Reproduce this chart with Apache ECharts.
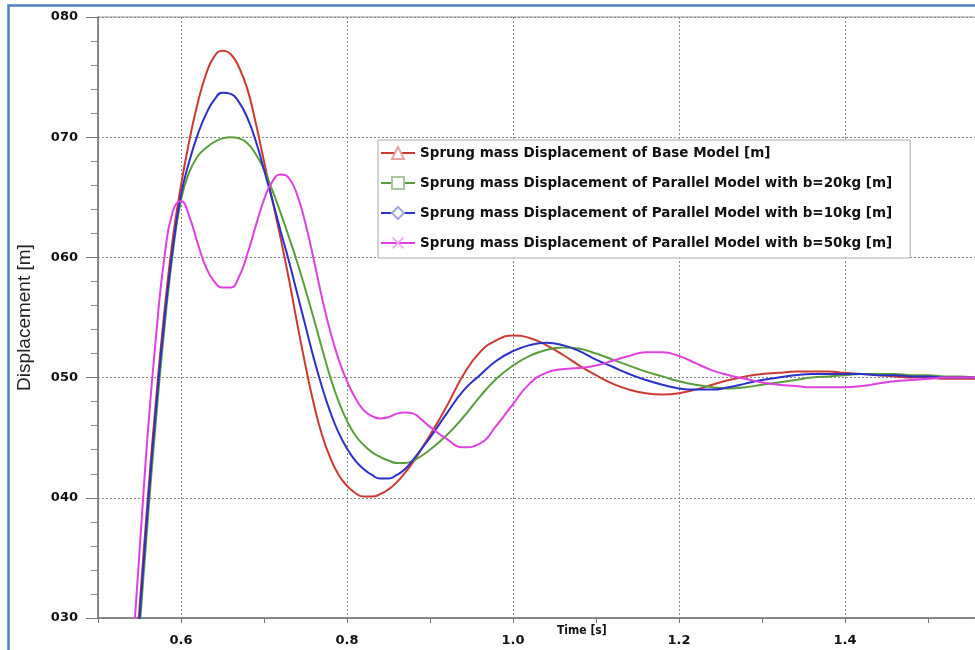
<!DOCTYPE html>
<html>
<head>
<meta charset="utf-8">
<script src="https://cdn.jsdelivr.net/npm/echarts@6/dist/echarts.min.js"></script>
<style>
html,body{margin:0;padding:0;background:#fff;}
#chart{width:975px;height:650px;}
</style>
</head>
<body>
<div id="chart"></div>
<script>
// ---- data (time in s, displacement in m) ----
const seriesNames = [
  'Sprung mass Displacement of Base Model [m]',
  'Sprung mass Displacement of Parallel Model with b=20kg [m]',
  'Sprung mass Displacement of Parallel Model with b=10kg [m]',
  'Sprung mass Displacement of Parallel Model with b=50kg [m]'
];
const yTickLabels = ['030', '040', '050', '060', '070', '080'];
const xTickLabels = ['0.6', '0.8', '1.0', '1.2', '1.4'];

const time = [0.54,0.55,0.56,0.57,0.58,0.59,0.60,0.61,0.62,0.63,0.64,0.65,0.66,0.67,0.68,0.69,0.70,0.71,0.72,0.73,0.74,0.75,0.76,0.77,0.78,0.79,0.80,0.81,0.82,0.83,0.84,0.85,0.86,0.87,0.88,0.89,0.90,
  0.92,0.94,0.96,0.98,1.00,1.02,1.04,1.06,1.08,1.10,1.12,1.14,1.16,1.18,1.20,1.22,1.24,1.26,1.28,1.30,1.32,1.34,1.36,1.38,1.40,1.42,1.44,1.46,1.48,1.50,1.52,1.54,1.56,1.58,1.60];

const dispBase = [0.0215,0.0308,0.0400,0.0482,0.0555,0.0615,0.0660,0.0697,0.0728,0.0752,0.0767,0.0772,0.0769,0.0758,0.0740,0.0712,0.0680,0.0648,0.0616,0.0582,0.0545,0.0510,0.0478,0.0452,0.0433,0.0419,0.0410,0.0404,0.0401,0.0401,0.0403,0.0407,0.0413,0.0421,0.0430,0.0441,0.0452,
  0.0476,0.0502,0.0521,0.0531,0.0535,0.0533,0.0527,0.0519,0.0510,0.0502,0.0495,0.0490,0.0487,0.0486,0.0487,0.0490,0.0494,0.0498,0.0501,0.0503,0.0504,0.0505,0.0505,0.0505,0.0504,0.0503,0.0502,0.0501,0.0500,0.0500,0.0499,0.0499,0.0499,0.0499,0.0499];

const dispB20 = [0.0200,0.0290,0.0382,0.0466,0.0541,0.0603,0.0648,0.0671,0.0684,0.0691,0.0696,0.0699,0.0700,0.0699,0.0695,0.0686,0.0673,0.0656,0.0637,0.0617,0.0596,0.0573,0.0549,0.0524,0.0500,0.0480,0.0464,0.0452,0.0444,0.0438,0.0434,0.0431,0.0429,0.0429,0.0431,0.0435,0.0440,
  0.0452,0.0467,0.0484,0.0499,0.0510,0.0518,0.0523,0.0525,0.0524,0.0520,0.0515,0.0510,0.0505,0.0501,0.0497,0.0494,0.0492,0.0491,0.0492,0.0494,0.0496,0.0498,0.0500,0.0501,0.0502,0.0503,0.0503,0.0503,0.0502,0.0502,0.0501,0.0501,0.0500,0.0500,0.0500];

const dispB10 = [0.0210,0.0300,0.0392,0.0475,0.0548,0.0607,0.0652,0.0680,0.0702,0.0719,0.0731,0.0737,0.0736,0.0729,0.0716,0.0697,0.0673,0.0648,0.0622,0.0597,0.0570,0.0543,0.0516,0.0492,0.0471,0.0454,0.0441,0.0431,0.0424,0.0419,0.0416,0.0416,0.0419,0.0424,0.0432,0.0441,0.0450,
  0.0470,0.0489,0.0502,0.0514,0.0522,0.0527,0.0529,0.0527,0.0522,0.0515,0.0509,0.0503,0.0498,0.0494,0.0491,0.0490,0.0490,0.0492,0.0495,0.0498,0.0500,0.0502,0.0503,0.0503,0.0503,0.0503,0.0502,0.0502,0.0501,0.0501,0.0500,0.0500,0.0500,0.0500,0.0500];

const dispB50 = [0.0255,0.0355,0.0454,0.0535,0.0600,0.0638,0.0647,0.0634,0.0612,0.0592,0.0580,0.0575,0.0575,0.0584,0.0603,0.0626,0.0648,0.0663,0.0669,0.0666,0.0652,0.0628,0.0598,0.0566,0.0538,0.0515,0.0497,0.0483,0.0473,0.0468,0.0466,0.0467,0.0470,0.0471,0.0470,0.0465,0.0459,
  0.0449,0.0442,0.0445,0.0460,0.0478,0.0495,0.0504,0.0507,0.0508,0.0510,0.0514,0.0518,0.0521,0.0521,0.0518,0.0512,0.0506,0.0502,0.0499,0.0496,0.0494,0.0493,0.0492,0.0492,0.0492,0.0493,0.0495,0.0497,0.0498,0.0499,0.0500,0.0500,0.0500,0.0500,0.0500];

const colors = ['#cc3a33', '#5a9e3c', '#2a30c8', '#e040e0'];
const legendSymbolColors = ['#e6a4a4', '#a9c8a0', '#a4a8dc', '#f0a4f0'];
const symbols = ['emptyTriangle', 'emptyRect', 'emptyDiamond',
  'path://M0,1L1,0L5,4L9,0L10,1L6,5L10,9L9,10L5,6L1,10L0,9L4,5Z'];

function pairs(t, v) { return t.map((x, i) => [x, v[i]]); }
const seriesData = [pairs(time, dispBase), pairs(time, dispB20), pairs(time, dispB10), pairs(time, dispB50)];

const chart = echarts.init(document.getElementById('chart'));
const labelFont = 'DejaVu Sans';

const option = {
  backgroundColor: '#ffffff',
  animation: false,
  grid: {
    left: 98, top: 17, width: 913, height: 601,
    outerBoundsMode: 'none', containLabel: false,
    show: true, borderColor: '#999', borderWidth: 1, backgroundColor: 'transparent'
  },
  legend: {
    orient: 'vertical',
    left: 378, top: 140,
    padding: [5, 18, 7, 2],
    itemWidth: 34, itemHeight: 15, itemGap: 14,
    backgroundColor: '#fff',
    borderColor: '#aaa', borderWidth: 1,
    textStyle: { fontFamily: 'DejaVu Sans', fontWeight: 'bold', fontSize: 13.5, color: '#111', lineHeight: 16 },
    data: seriesNames.map((n, i) => ({ name: n, itemStyle: { color: legendSymbolColors[i] } }))
  },
  xAxis: [{
    type: 'value', min: 0.5, max: 1.6, splitNumber: 5,
    axisLine: { show: true, lineStyle: { color: '#777', width: 1.5 } },
    axisTick: { show: false },
    axisLabel: {
      showMinLabel: false, showMaxLabel: false, margin: 16,
      fontFamily: labelFont, fontWeight: 'bold', fontSize: 13, color: '#111',
      formatter: v => { const s = v.toFixed(1); return xTickLabels.indexOf(s) >= 0 ? s : ''; }
    },
    splitLine: { show: true, lineStyle: { color: '#888', type: [2, 2], width: 1 } }
  }, {
    type: 'value', min: 0.5, max: 1.6, interval: 0.1, position: 'bottom',
    axisLine: { show: false },
    axisTick: { show: true, length: 5, lineStyle: { color: '#777', width: 1 } },
    axisLabel: { show: false },
    splitLine: { show: false }
  }],
  yAxis: {
    type: 'value', min: 0.03, max: 0.08, interval: 0.01,
    name: 'Displacement [m]', nameLocation: 'middle', nameRotate: 90, nameGap: 64,
    nameTextStyle: { fontFamily: 'Liberation Sans', fontSize: 19, color: '#222' },
    axisLine: { show: true, lineStyle: { color: '#777', width: 1.5 } },
    axisTick: { show: true, length: 12, lineStyle: { color: '#777' } },
    minorTick: { show: true, splitNumber: 5, length: 7, lineStyle: { color: '#888' } },
    axisLabel: {
      margin: 20, fontFamily: labelFont, fontWeight: 'bold', fontSize: 13, color: '#111',
      formatter: v => yTickLabels[Math.round((v - 0.03) * 100)] || ''
    },
    splitLine: { show: true, lineStyle: { color: '#888', type: [2, 2], width: 1 } }
  },
  series: seriesNames.map((name, i) => ({
    name: name,
    type: 'line',
    xAxisIndex: 0,
    data: seriesData[i],
    smooth: 0.5,
    showSymbol: false,
    symbol: symbols[i],
    clip: true,
    lineStyle: { color: colors[i], width: 2 },
    itemStyle: { color: colors[i] },
    z: 2 + i
  })),
  graphic: [
    { type: 'text', left: 557, top: 625, z: 10,
      style: { text: 'Time [s]', fontFamily: 'DejaVu Sans Condensed', fontWeight: 'bold', fontSize: 12, fill: '#111' } },
    { type: 'rect', shape: { x: 8.5, y: 5.5, width: 1000, height: 700 }, z: 20,
      style: { fill: 'none', stroke: '#4f81bd', lineWidth: 2.5 } }
  ]
};
chart.setOption(option);
</script>
</body>
</html>
